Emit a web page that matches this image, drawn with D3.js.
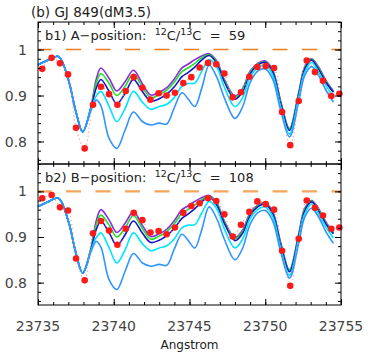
<!DOCTYPE html>
<html>
<head>
<meta charset="utf-8">
<script src="https://cdn.jsdelivr.net/npm/d3@7"></script>
<style>
  body { margin: 0; background: #fff; }
  svg { display: block; font-family: "DejaVu Sans", sans-serif; }
</style>
</head>
<body>
<svg id="chart"></svg>
<script>
var width = 375,
    height = 355;

// model wavelength knots (Angstrom)
var modelWl = [23735.0, 23735.6, 23736.35, 23737.0, 23737.5, 23737.95, 23738.5, 23738.85, 23739.15, 23739.7,
  23740.2, 23740.75, 23741.3, 23741.9, 23742.45, 23743.0, 23743.5, 23744.0, 23744.5, 23744.9,
  23745.35, 23745.8, 23746.3, 23746.8, 23747.3, 23748.0, 23748.5, 23749.0, 23749.5, 23750.0,
  23750.5, 23751.0, 23751.6, 23752.2, 23752.6, 23753.05, 23753.5, 23754.0, 23754.5];

// synthetic spectra, highest to lowest
var modelPurple = [0.967, 0.976, 0.985, 0.935, 0.865, 0.821, 0.876, 0.936, 0.960, 0.937,
  0.910, 0.930, 0.955, 0.925, 0.901, 0.907, 0.917, 0.936, 0.960, 0.968,
  0.978, 0.986, 0.991, 0.975, 0.935, 0.899, 0.915, 0.953, 0.970, 0.975,
  0.955, 0.890, 0.828, 0.905, 0.962, 0.980, 0.963, 0.933, 0.910];
var modelGreen = [0.967, 0.976, 0.985, 0.935, 0.865, 0.821, 0.875, 0.928, 0.948, 0.926,
  0.900, 0.920, 0.947, 0.918, 0.895, 0.902, 0.912, 0.929, 0.952, 0.960,
  0.970, 0.982, 0.989, 0.973, 0.933, 0.896, 0.912, 0.950, 0.968, 0.973,
  0.953, 0.888, 0.827, 0.903, 0.960, 0.979, 0.961, 0.931, 0.908];
var modelNavy = [0.967, 0.976, 0.985, 0.935, 0.865, 0.821, 0.873, 0.917, 0.935, 0.909,
  0.882, 0.905, 0.935, 0.908, 0.888, 0.893, 0.903, 0.919, 0.941, 0.950,
  0.962, 0.977, 0.987, 0.970, 0.930, 0.892, 0.908, 0.947, 0.966, 0.972,
  0.951, 0.886, 0.824, 0.900, 0.957, 0.977, 0.958, 0.929, 0.907];
var modelCyan = [0.967, 0.976, 0.985, 0.935, 0.865, 0.821, 0.871, 0.899, 0.909, 0.876,
  0.843, 0.872, 0.909, 0.885, 0.870, 0.876, 0.881, 0.896, 0.920, 0.926,
  0.927, 0.952, 0.978, 0.962, 0.918, 0.876, 0.895, 0.940, 0.960, 0.966,
  0.944, 0.878, 0.816, 0.895, 0.950, 0.972, 0.952, 0.922, 0.898];
var modelSky = [0.967, 0.976, 0.985, 0.935, 0.865, 0.821, 0.868, 0.890, 0.878, 0.806,
  0.785, 0.825, 0.864, 0.843, 0.836, 0.840, 0.838, 0.874, 0.906, 0.893,
  0.876, 0.915, 0.966, 0.940, 0.895, 0.850, 0.875, 0.928, 0.953, 0.958,
  0.935, 0.870, 0.810, 0.885, 0.943, 0.963, 0.945, 0.912, 0.886];

var modelColors = ['#8a2be2', '#22dd22', '#1414c8', '#00e5ff', '#3094ff'];

// observed spectra
var obsWl = [23735.28, 23735.90, 23736.45, 23736.98, 23737.51, 23738.08, 23738.63, 23739.16, 23739.69, 23740.24,
  23740.79, 23741.32, 23741.89, 23742.42, 23742.96, 23743.49, 23744.04, 23744.59, 23745.12, 23745.67,
  23746.22, 23746.77, 23747.30, 23747.85, 23748.40, 23748.95, 23749.48, 23750.03, 23750.58, 23751.11,
  23751.65, 23752.21, 23752.74, 23753.28, 23753.81, 23754.36, 23754.89];
var obsA = [0.958, 0.982, 0.970, 0.946, 0.830, 0.785, 0.880, 0.919, 0.903, 0.880,
  0.910, 0.940, 0.917, 0.891, 0.905, 0.900, 0.906, 0.927, 0.940, 0.961,
  0.971, 0.968, 0.948, 0.896, 0.907, 0.941, 0.962, 0.964, 0.960, 0.864,
  0.792, 0.888, 0.976, 0.951, 0.932, 0.899, 0.904];
var obsB = [0.985, 0.992, 0.965, 0.958, 0.853, 0.805, 0.908, 0.935, 0.914, 0.883,
  0.918, 0.953, 0.937, 0.910, 0.913, 0.906, 0.921, 0.953, 0.968, 0.974,
  0.985, 0.979, 0.950, 0.901, 0.927, 0.955, 0.978, 0.972, 0.960, 0.870,
  0.793, 0.896, 0.980, 0.964, 0.947, 0.918, 0.921];

var xTicks = [23735, 23740, 23745, 23750, 23755];
var yTicks = [0.8, 0.9, 1];
var yTickLabels = ['0.8', '0.9', '1'];

var panels = [
  { id: 'b1', pos: 'A', ratio: '59', obs: obsA, top: 22, bottom: 164, dash: '#f07c1e', dashW: 1.4 },
  { id: 'b2', pos: 'B', ratio: '108', obs: obsB, top: 164, bottom: 305, dash: '#f5a55a', dashW: 2.2 }
];

var x = d3.scaleLinear().domain([23735, 23755]).range([38, 341]);

var svg = d3.select('#chart')
    .attr('width', width)
    .attr('height', height);

svg.append('text')
    .attr('x', 31)
    .attr('y', 17)
    .attr('font-size', 13.5)
    .attr('fill', '#222')
    .text('(b) GJ 849(dM3.5)');

var models = [modelPurple, modelGreen, modelNavy, modelCyan, modelSky];

panels.forEach(function (p) {
    var y = d3.scaleLinear().domain([0.751, 1.06]).range([p.bottom, p.top]);
    var g = svg.append('g');

    // continuum level
    g.append('line')
        .attr('x1', x.range()[0]).attr('x2', x.range()[1])
        .attr('y1', y(1)).attr('y2', y(1))
        .attr('stroke', p.dash)
        .attr('stroke-width', p.dashW)
        .attr('stroke-dasharray', '15,14.5')
        .attr('stroke-dashoffset', 1.5);

    // model curves
    models.forEach(function (m, i) {
        var line = d3.line()
            .x(function (d, j) { return x(modelWl[j]); })
            .y(function (d) { return y(d); })
            .curve(d3.curveCatmullRom.alpha(0.5));
        g.append('path')
            .attr('d', line(m))
            .attr('fill', 'none')
            .attr('stroke', modelColors[i])
            .attr('stroke-width', 1.6);
    });

    // observed: dotted trace + dots
    var obsLine = d3.line()
        .x(function (d, j) { return x(obsWl[j]); })
        .y(function (d) { return y(d); })
        .curve(d3.curveCatmullRom.alpha(0.5));
    g.append('path')
        .attr('d', obsLine(p.obs))
        .attr('fill', 'none')
        .attr('stroke', '#ff8080')
        .attr('stroke-width', 1.1)
        .attr('stroke-dasharray', '1,3');

    g.selectAll('circle')
        .data(p.obs)
        .enter().append('circle')
        .attr('cx', function (d, j) { return x(obsWl[j]); })
        .attr('cy', function (d) { return y(d); })
        .attr('r', 3.3)
        .attr('fill', '#ff1a1a');

    // inward ticks on all four sides
    var xMinor = d3.range(23735, 23756, 1);
    var yMinor = d3.range(0.76, 1.06, 0.02);
    function ticks(axis, vals, size, tx, ty) {
        var a = g.append('g')
            .attr('transform', 'translate(' + tx + ',' + ty + ')')
            .call(axis.tickValues(vals).tickSize(size).tickFormat(''));
        a.select('.domain').remove();
        a.selectAll('line').attr('stroke', '#000');
    }
    ticks(d3.axisBottom(x), xMinor, -3, 0, p.bottom);
    ticks(d3.axisBottom(x), xTicks, -6, 0, p.bottom);
    ticks(d3.axisTop(x), xMinor, -3, 0, p.top);
    ticks(d3.axisTop(x), xTicks, -6, 0, p.top);
    ticks(d3.axisLeft(y), yMinor, -3, 38, 0);
    ticks(d3.axisLeft(y), yTicks, -6, 38, 0);
    ticks(d3.axisRight(y), yMinor, -3, 341, 0);
    ticks(d3.axisRight(y), yTicks, -6, 341, 0);

    g.append('rect')
        .attr('x', 38).attr('y', p.top)
        .attr('width', 303).attr('height', p.bottom - p.top)
        .attr('fill', 'none')
        .attr('stroke', '#000')
        .attr('stroke-width', 1);

    // y labels
    g.selectAll('.ylab')
        .data(yTicks)
        .enter().append('text')
        .attr('class', 'ylab')
        .attr('x', 27)
        .attr('y', function (d) { return y(d); })
        .attr('dy', '0.36em')
        .attr('text-anchor', 'end')
        .attr('font-size', 14)
        .attr('fill', '#444')
        .text(function (d, i) { return yTickLabels[i]; });

    // panel label
    var t = g.append('text')
        .attr('x', 45)
        .attr('y', p.top + 18)
        .attr('font-size', 13)
        .attr('fill', '#222')
        .style('white-space', 'pre');
    t.append('tspan').text(p.id + ') ' + p.pos + '\u2212position:  ');
    t.append('tspan').attr('font-size', 9.5).attr('dy', -5).text('12');
    t.append('tspan').attr('dy', 5).text('C/');
    t.append('tspan').attr('font-size', 9.5).attr('dy', -5).text('13');
    t.append('tspan').attr('dy', 5).text('C  =  ' + p.ratio);
});

// x tick labels
svg.selectAll('.xlab')
    .data(xTicks)
    .enter().append('text')
    .attr('class', 'xlab')
    .attr('x', function (d) { return x(d); })
    .attr('y', 331)
    .attr('text-anchor', 'middle')
    .attr('font-size', 14)
    .attr('fill', '#444')
    .text(function (d) { return d; });

svg.append('text')
    .attr('x', x(23745))
    .attr('y', 349)
    .attr('text-anchor', 'middle')
    .attr('font-size', 12)
    .attr('fill', '#222')
    .text('Angstrom');
</script>
</body>
</html>
